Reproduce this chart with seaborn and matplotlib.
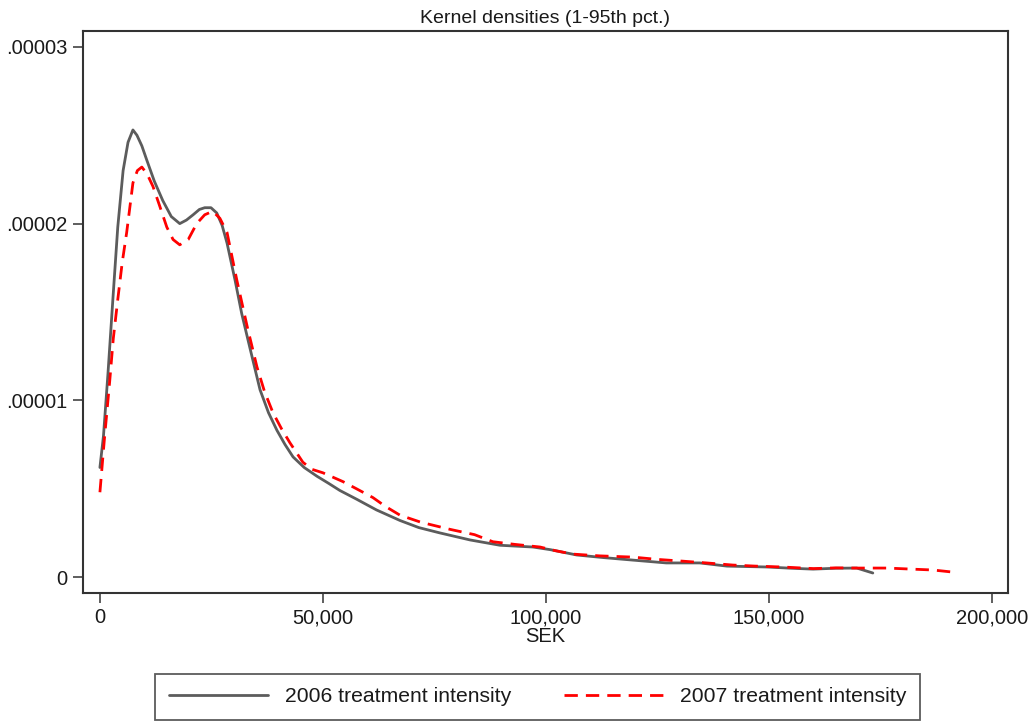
import numpy as np
import pandas as pd
import matplotlib
matplotlib.use("Agg")
import matplotlib.pyplot as plt
import seaborn as sns

# data (x in SEK, density)
x_2006 = [0, 800, 1800, 2900, 4000, 5200, 6300, 7400, 8300, 9400, 10500, 12200,
          14100, 16000, 17900, 19400, 20900, 22300, 23500, 24900, 26200, 27400,
          28500, 30300, 31800, 33600, 35900, 37800, 39700, 41500, 43300, 45800,
          48700, 51300, 53800, 57600, 62000, 67300, 71500, 76200, 83000, 89700,
          97100, 101000, 106900, 113000, 119500, 127000, 134500, 140600, 149600,
          155000, 159900, 165000, 169700, 173300]
y_2006 = [6.2, 8.0, 11.5, 15.7, 19.8, 23.0, 24.6, 25.3, 25.0, 24.4, 23.6, 22.4,
          21.3, 20.4, 20.0, 20.2, 20.5, 20.8, 20.9, 20.9, 20.6, 19.9,
          18.9, 16.8, 14.9, 13.0, 10.6, 9.3, 8.3, 7.5, 6.8, 6.2,
          5.7, 5.3, 4.9, 4.4, 3.8, 3.2, 2.8, 2.5, 2.1, 1.8,
          1.7, 1.55, 1.25, 1.1, 0.96, 0.8, 0.8, 0.62, 0.57,
          0.5, 0.45, 0.5, 0.51, 0.23]

x_2007 = [0, 1000, 2200, 3000, 4000, 5000, 6000, 7400, 8400, 9400, 10600, 11900,
          13400, 15000, 16400, 17900, 19800, 21700, 23500, 25300, 26900, 28500,
          30700, 33000, 35200, 36900, 38800, 40700, 42600, 45500, 47500, 50000,
          54500, 57500, 61200, 64000, 67300, 72000, 78500, 84000, 88100, 93000,
          98700, 102000, 106000, 112000, 119500, 125000, 130700, 136000, 141900,
          147000, 153000, 160000, 165000, 169700, 176500, 182000, 186800, 191300]
y_2007 = [4.8, 7.8, 11.1, 13.5, 15.7, 17.8, 19.5, 22.3, 23.0, 23.2, 22.8, 22.1,
          21.0, 19.8, 19.1, 18.8, 19.1, 20.0, 20.5, 20.7, 20.3, 19.5,
          16.8, 14.2, 11.9, 10.5, 9.3, 8.4, 7.6, 6.5, 6.1, 5.9,
          5.4, 5.0, 4.5, 4.0, 3.5, 3.1, 2.7, 2.4, 2.0, 1.85,
          1.7, 1.5, 1.3, 1.2, 1.13, 1.0, 0.9, 0.8, 0.68,
          0.62, 0.57, 0.48, 0.52, 0.51, 0.51, 0.45, 0.4, 0.28]

series_names = ["2006 treatment intensity", "2007 treatment intensity"]
x_ticks = [0, 50000, 100000, 150000, 200000]
x_tick_labels = ["0", "50,000", "100,000", "150,000", "200,000"]
y_ticks = [0, 0.00001, 0.00002, 0.00003]
y_tick_labels = ["0", ".00001", ".00002", ".00003"]

df = pd.concat([
    pd.DataFrame({"SEK": x_2006, "density": np.array(y_2006) * 1e-6, "series": series_names[0]}),
    pd.DataFrame({"SEK": x_2007, "density": np.array(y_2007) * 1e-6, "series": series_names[1]}),
])

sns.set_theme(style="white")
plt.rcParams['font.family'] = ['Liberation Sans', 'DejaVu Sans']
ink = "#1a1a1a"
frame = "#333333"

fig = plt.figure(figsize=(10.32, 7.22), dpi=100)
ax = fig.add_axes([0.0804, 0.1787, 0.8963, 0.7784])

sns.lineplot(data=df, x="SEK", y="density", hue="series", style="series",
             palette={series_names[0]: "#5c5c5c", series_names[1]: "#ff0000"},
             dashes={series_names[0]: "", series_names[1]: (4.8, 2.9)},
             estimator=None, sort=False, linewidth=2.0, ax=ax)

ax.set_xlim(-3800, 203600)
ax.set_ylim(-0.9e-6, 30.9e-6)
ax.set_xticks(x_ticks)
ax.set_xticklabels(x_tick_labels)
ax.set_yticks(y_ticks)
ax.set_yticklabels(y_tick_labels)
ax.tick_params(axis="both", direction="out", length=7, width=1.1, color=frame,
               labelsize=14.5, labelcolor=ink, pad=4, left=True, bottom=True)
for s in ax.spines.values():
    s.set_color(frame)
    s.set_linewidth(1.5)

ax.set_xlabel("SEK", fontsize=14.5, color=ink, labelpad=0)
ax.set_ylabel("")
ax.set_title("Kernel densities (1-95th pct.)", fontsize=14, color=ink, pad=6)

handles, labels = ax.get_legend_handles_labels()
ax.get_legend().remove()
leg = fig.legend(handles, labels, ncol=2, loc="lower left",
                 bbox_to_anchor=(155 / 1032, 2 / 722),
                 fontsize=15.2, frameon=True, fancybox=False, edgecolor=frame,
                 handlelength=4.7, handletextpad=0.8, columnspacing=2.5,
                 borderaxespad=0, borderpad=0.65)
leg.get_frame().set_linewidth(1.3)
for t in leg.get_texts():
    t.set_color(ink)

fig.savefig("out.png", dpi=100, facecolor="white")
